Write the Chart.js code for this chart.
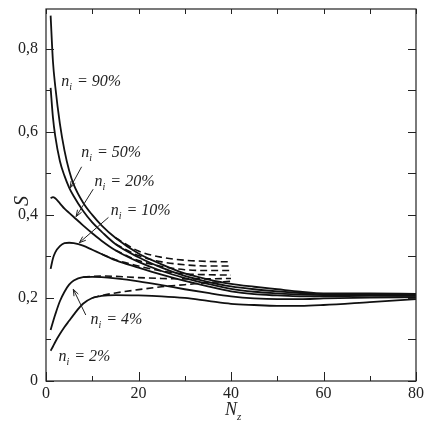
<!DOCTYPE html>
<html><head><meta charset="utf-8">
<script src="https://cdn.jsdelivr.net/npm/chart.js@4.4.0/dist/chart.umd.min.js"></script>
<style>html,body{margin:0;padding:0;background:#fff;}canvas{display:block;}</style>
</head><body>
<canvas id="c" width="425" height="423"></canvas>
<script>
// ---- data ----
const N = [1,1.5,2,3,4,5,6,8,10,12,15,20,25,30,35,40,45,50,55,60,70,80];
const s90 = [0.88,0.77,0.71,0.62,0.555,0.507,0.473,0.43,0.40,0.375,0.345,0.307,0.281,0.259,0.245,0.234,0.227,0.221,0.215,0.211,0.211,0.21];
const s50 = [0.706,0.635,0.59,0.53,0.494,0.466,0.445,0.41,0.382,0.36,0.33,0.298,0.273,0.253,0.239,0.228,0.221,0.216,0.212,0.209,0.209,0.208];
const s20 = [0.44,0.443,0.44,0.428,0.415,0.405,0.395,0.375,0.356,0.338,0.315,0.287,0.265,0.248,0.234,0.222,0.215,0.211,0.208,0.207,0.207,0.206];
const s10 = [0.27,0.295,0.31,0.325,0.332,0.333,0.332,0.326,0.316,0.306,0.291,0.273,0.256,0.241,0.228,0.216,0.209,0.206,0.204,0.204,0.205,0.205];
const s4  = [0.123,0.142,0.16,0.192,0.215,0.232,0.242,0.25,0.251,0.25,0.247,0.24,0.231,0.221,0.212,0.204,0.199,0.197,0.197,0.199,0.201,0.202];
const s2  = [0.073,0.083,0.094,0.113,0.13,0.145,0.16,0.186,0.20,0.205,0.207,0.206,0.204,0.20,0.193,0.186,0.183,0.181,0.181,0.183,0.19,0.197];

const Nd = [8,10,12,15,20,25,30,35,40];
const d90 = [null,null,null,0.345,0.313,0.298,0.291,0.288,0.287];
const d50 = [null,null,null,0.33,0.302,0.287,0.28,0.277,0.277];
const d20 = [null,null,null,0.315,0.29,0.276,0.268,0.266,0.266];
const d10 = [null,null,0.306,0.292,0.277,0.265,0.258,0.256,0.255];
const d4  = [0.25,0.252,0.253,0.252,0.249,0.247,0.246,0.246,0.247];
const d2  = [null,0.20,0.206,0.212,0.22,0.227,0.232,0.237,0.24];

const xTicks = [0,20,40,60,80];
const xMinor = [10,30,50,70];
const yTicks = [0,0.2,0.4,0.6,0.8];
const yMinor = [0.1,0.3,0.5,0.7];
const yTickLabels = ['0','0,2','0,4','0,6','0,8'];

const curveLabels = ['90%','50%','20%','10%','4%','2%'];
// label anchors (N, S) and arrows [tailN, tailS, tipN, tipS]
const labelPos = [[3.3,0.71],[7.6,0.54],[10.5,0.47],[14.0,0.40],[9.6,0.138],[2.7,0.049]];
const arrows = [null,[7.7,0.516,5.2,0.465],[10.2,0.462,6.5,0.396],[13.5,0.394,7.2,0.333],[8.6,0.159,5.9,0.221],null];

// ---- build ----
const pts = (xs, ys) => xs.map((x,i)=>({x:x,y:ys[i]})).filter(p=>p.y!==null);
const solid = [s90,s50,s20,s10,s4,s2];
const dashed = [d90,d50,d20,d10,d4,d2];
const datasets = [];
solid.forEach(s=>datasets.push({data:pts(N,s),borderColor:'#111',borderWidth:1.8,pointRadius:0,fill:false,cubicInterpolationMode:'monotone'}));
dashed.forEach(s=>datasets.push({data:pts(Nd,s),borderColor:'#111',borderWidth:1.6,borderDash:[7,4],pointRadius:0,fill:false,cubicInterpolationMode:'monotone'}));

const SERIF = '"Liberation Serif","Times New Roman",serif';

const decor = {
  id:'decor',
  afterDraw(chart){
    const ctx = chart.ctx, ca = chart.chartArea, xs = chart.scales.x, ys = chart.scales.y;
    ctx.save();
    ctx.strokeStyle = '#222'; ctx.lineWidth = 1.2;
    ctx.strokeRect(ca.left, ca.top, ca.right-ca.left, ca.bottom-ca.top);
    ctx.lineWidth = 1;
    ctx.beginPath();
    xTicks.concat(xMinor).forEach(v=>{
      const p = Math.round(xs.getPixelForValue(v))+0.5;
      const major = xTicks.includes(v);
      ctx.moveTo(p, ca.bottom); ctx.lineTo(p, ca.bottom-(major?9:5));
      ctx.moveTo(p, ca.top); ctx.lineTo(p, ca.top+5);
    });
    yTicks.concat(yMinor).forEach(v=>{
      const p = Math.round(ys.getPixelForValue(v))+0.5;
      const major = yTicks.includes(v);
      ctx.moveTo(ca.left, p); ctx.lineTo(ca.left+(major?8:5), p);
      ctx.moveTo(ca.right, p); ctx.lineTo(ca.right-8, p);
    });
    ctx.stroke();

    // curve labels
    ctx.fillStyle = '#222';
    ctx.textBaseline = 'alphabetic';
    curveLabels.forEach((t,i)=>{
      let x = xs.getPixelForValue(labelPos[i][0]);
      const y = ys.getPixelForValue(labelPos[i][1]);
      ctx.font = 'italic 16px '+SERIF;
      ctx.fillText('n', x, y); x += ctx.measureText('n').width;
      ctx.font = 'italic 10px '+SERIF;
      ctx.fillText('i', x, y+4); x += ctx.measureText('i').width + 1;
      ctx.font = 'italic 16px '+SERIF;
      ctx.fillText(' = '+t, x, y);
    });
    // arrows
    ctx.strokeStyle = '#222'; ctx.lineWidth = 1;
    arrows.forEach(a=>{
      if(!a) return;
      const x1 = xs.getPixelForValue(a[0]), y1 = ys.getPixelForValue(a[1]);
      const x2 = xs.getPixelForValue(a[2]), y2 = ys.getPixelForValue(a[3]);
      const ang = Math.atan2(y2-y1, x2-x1), L = 7, w = 0.35;
      ctx.beginPath();
      ctx.moveTo(x1,y1); ctx.lineTo(x2,y2);
      ctx.moveTo(x2 - L*Math.cos(ang-w), y2 - L*Math.sin(ang-w));
      ctx.lineTo(x2,y2);
      ctx.lineTo(x2 - L*Math.cos(ang+w), y2 - L*Math.sin(ang+w));
      ctx.stroke();
    });
    // axis titles
    ctx.font = 'italic 18px '+SERIF;
    ctx.textAlign = 'left';
    const tx = (ca.left+ca.right)/2 - 6;
    ctx.fillText('N', tx, 415);
    const nw = ctx.measureText('N').width;
    ctx.font = 'italic 11px '+SERIF;
    ctx.fillText('z', tx+nw, 420);
    ctx.save();
    ctx.translate(28, (ca.top+ca.bottom)/2 + 6);
    ctx.rotate(-Math.PI/2);
    ctx.font = 'italic 20px '+SERIF;
    ctx.textAlign = 'center';
    ctx.fillText('S', 0, 0);
    ctx.restore();
    ctx.restore();
  }
};

new Chart(document.getElementById('c'), {
  type:'line',
  data:{datasets},
  options:{
    responsive:false, animation:false, devicePixelRatio:1,
    layout:{padding:{left:0,right:9,top:9,bottom:0}},
    plugins:{legend:{display:false}, tooltip:{enabled:false}},
    scales:{
      x:{type:'linear', min:0, max:80,
        grid:{display:false, drawTicks:false}, border:{display:false},
        afterBuildTicks:s=>{s.ticks = xTicks.map(v=>({value:v}));},
        afterFit:s=>{s.height = 42; s.paddingLeft = 0; s.paddingRight = 0;},
        ticks:{padding:3, color:'#222', font:{family:SERIF, size:16}, maxRotation:0, callback:v=>String(v)}},
      y:{type:'linear', min:0, max:0.896,
        grid:{display:false, drawTicks:false}, border:{display:false},
        afterBuildTicks:s=>{s.ticks = yTicks.map(v=>({value:v}));},
        afterFit:s=>{s.width = 46; s.paddingTop = 0; s.paddingBottom = 0;},
        ticks:{padding:8, color:'#222', font:{family:SERIF, size:16},
          callback:(v)=>{const i = yTicks.findIndex(t=>Math.abs(t-v)<1e-6); return i>=0?yTickLabels[i]:'';}}}
    }
  },
  plugins:[decor]
});
</script>
</body></html>
